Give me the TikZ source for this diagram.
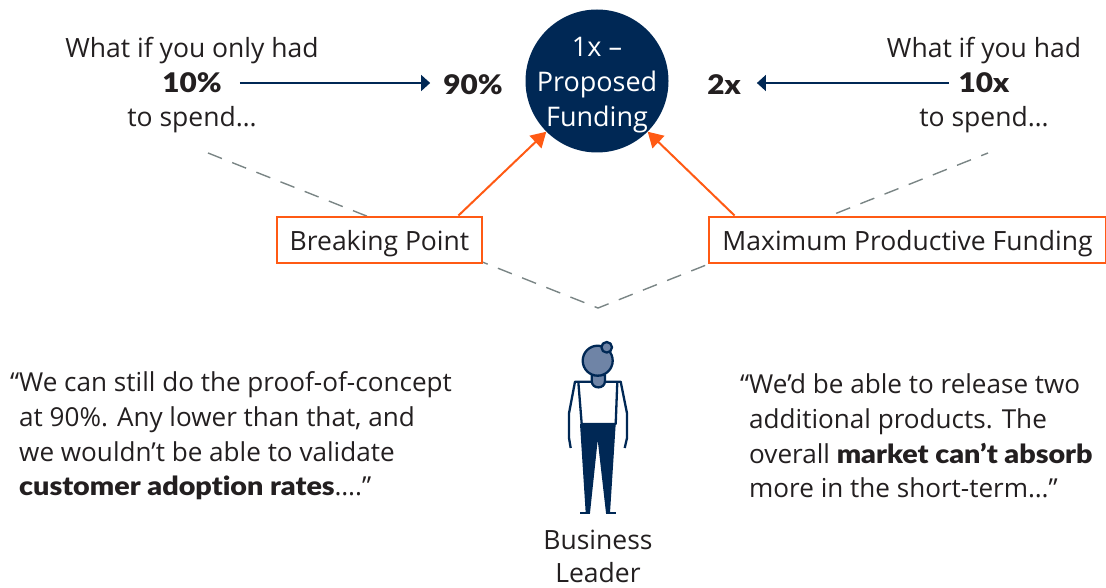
\documentclass[tikz,border=0pt]{standalone}
\usepackage{fontspec}
\setmainfont{Open Sans}
\newfontfamily\heavyfont[FakeStretch=1.1,Ligatures=CommonOff]{Lato Black}
\usetikzlibrary{arrows.meta}

\definecolor{navy}{HTML}{002855}
\definecolor{fire}{HTML}{FF5A14}
\definecolor{ink}{HTML}{231F20}
\definecolor{dashgray}{HTML}{7A8585}
\definecolor{headblue}{HTML}{6F84A6}

\tikzset{
	label/.style={text=ink, font=\fontsize{26.5}{33}\selectfont, inner sep=0},
	lead/.style={label, align=left, anchor=west, font=\fontsize{26.1}{34.7}\selectfont},
	figure/.style={label, font=\fontsize{27}{34}\heavyfont},
	pointbox/.style={label, draw=fire, line width=2.8pt, fill=white, minimum height=46, text height=24, text depth=3},
	fund/.style={draw=navy, -{Triangle[length=9pt,width=16pt]}, line width=1.4pt},
	push/.style={draw=fire, -{Triangle[length=15pt,width=17pt]}, line width=2pt},
	body/.style={draw=navy, line width=2.3pt, line join=round}
}

\begin{document}
\begin{tikzpicture}[x=1pt,y=-1pt]
	\useasboundingbox (0,0) rectangle (1106,588);

	%dashed roof
	\coordinate (roofl) at (208,153);
	\coordinate (apex) at (598,308);
	\coordinate (roofr) at (988,153);
	\draw[dashgray, line width=1.4pt, dash pattern=on 15pt off 11pt] (roofl) -- (apex) -- (roofr);

	%centre circle
	\node[circle, fill=navy, minimum size=143, inner sep=0] (funding) at (597,81){};
	\node[text=white, inner sep=0, align=center, font=\fontsize{27}{34.7}\selectfont] (fundingtext) at (597,85){1x --\\Proposed\\Funding};

	%left column
	\node[label] (lefttop) at (192,51){What if you only had};
	\node[figure] (ten) at (192,83){10\%};
	\node[label] (leftend) at (192,120){to spend\dots};
	\node[figure] (ninety) at (473,85){90\%};

	%right column
	\node[label] (righttop) at (984,51){What if you had};
	\node[figure] (tenx) at (984,83){10x};
	\node[label] (rightend) at (984,120){to spend\dots};
	\node[figure] (twox) at (724,85){2x};

	%boxes
	\node[pointbox, minimum width=205] (breaking) at (379.5,240){Breaking Point};
	\node[pointbox, minimum width=397] (maxfund) at (907.5,240){Maximum Productive Funding};

	\draw[fund, shorten >=13pt, shorten <=18pt] (ten.east) -- (ninety.west |- ten.east);
	\draw[fund, shorten >=16pt, shorten <=10pt] (tenx.west) -- (twox.east |- tenx.west);
	\draw[push] ([xshift=-25pt]breaking.north east) -- (funding.225);
	\draw[push] ([xshift=27pt]maxfund.north west) -- (funding.-45);

	%quotes
	\node[lead] (quoteleft) at (19,436){\llap{“}We can still do the proof-of-concept\\at 90\%. Any lower than that, and\\we wouldn’t be able to validate\\{\heavyfont customer adoption rates}\dots.”};
	\node[lead] (quoteright) at (749,436){\llap{“}We’d be able to release two\\additional products. The\\overall {\heavyfont market can’t absorb}\\more in the short-term\dots”};

	%person
	\fill[navy] (580,424) -- (615.7,424) -- (610,513) -- (606,513) -- (597.7,440) -- (590,513) -- (585.7,513) -- cycle;
	\draw[body] (580,513.3) -- (590,513.3);
	\draw[body] (606,513.3) -- (615.7,513.3);
	\draw[body] (578.3,381.7) -- (581.7,424) -- (615.7,424) -- (617.3,381.7);
	\draw[body] (570.7,448) -- (569,438) -- (569,413.3) -- (575,381.7) -- (620.7,381.7) -- (627,413.3) -- (627,438) -- (624.7,448);
	\draw[body, fill=headblue] (591.7,375) -- (591.7,381) .. controls (591.7,389.5) and (605,389.5) .. (605,381) -- (605,375) -- cycle;
	\draw[body, fill=headblue] (597.7,360.7) circle (15);
	\draw[body, fill=headblue] (606.7,347.3) circle (5.3);
	\node[label, align=center] (leader) at (598,556){Business\\Leader};
\end{tikzpicture}
\end{document}
